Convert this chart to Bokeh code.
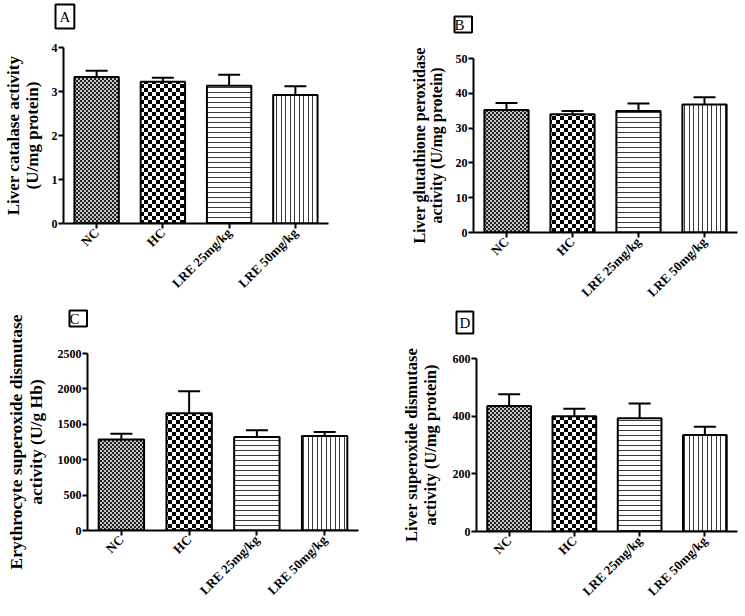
from math import pi
from bokeh.plotting import figure
from bokeh.models import (ColumnDataSource, Whisker, TeeHead, FixedTicker,
                          Range1d, FactorRange, CanvasTexture, Title,
                          CDSView, IndexFilter)
from bokeh.layouts import column, row
from bokeh.embed import file_html
from bokeh.resources import INLINE

# ---------------- data ----------------
groups = ["NC", "HC", "LRE 25mg/kg", "LRE 50mg/kg"]

catalase_mean = [3.33, 3.22, 3.13, 2.92]
catalase_sem = [0.14, 0.09, 0.25, 0.20]

gpx_mean = [35.2, 34.0, 34.9, 36.8]
gpx_sem = [2.0, 0.9, 2.2, 2.1]

ery_sod_mean = [1285, 1656, 1321, 1335]
ery_sod_sem = [83, 311, 94, 57]

liver_sod_mean = [435, 400, 393, 335]
liver_sod_sem = [41, 26, 51, 28]

ticks_a = [0, 1, 2, 3, 4]
ticks_b = [0, 10, 20, 30, 40, 50]
ticks_c = [0, 500, 1000, 1500, 2000, 2500]
ticks_d = [0, 200, 400, 600]

# ---------------- styles ----------------
FONT = "Liberation Serif"
PATTERNS = ["fine", "coarse", "hlines", "vlines"]
SCALES = [4, 8, 5, 9]

HATCH = {
    "fine": CanvasTexture(code="""
const g = arguments[0];
g.canvas.width = 4; g.canvas.height = 4;
g.fillStyle = "#c4c4c4"; g.fillRect(0, 0, 4, 4);
g.fillStyle = "#222222";
g.fillRect(0, 0, 2, 2); g.fillRect(2, 2, 2, 2);
"""),
    "coarse": CanvasTexture(code="""
const g = arguments[0];
g.canvas.width = 8; g.canvas.height = 8;
g.fillStyle = "#ffffff"; g.fillRect(0, 0, 8, 8);
g.fillStyle = "#000000";
g.fillRect(0, 0, 4, 4); g.fillRect(4, 4, 4, 4);
"""),
    "hlines": CanvasTexture(code="""
const g = arguments[0];
g.canvas.width = 5; g.canvas.height = 5;
g.fillStyle = "#ffffff"; g.fillRect(0, 0, 5, 5);
g.fillStyle = "#3a3a3a";
g.fillRect(0, 2, 5, 1);
"""),
    "vlines": CanvasTexture(code="""
const g = arguments[0];
g.canvas.width = 9; g.canvas.height = 9;
g.fillStyle = "#ffffff"; g.fillRect(0, 0, 9, 9);
g.fillStyle = "#3a3a3a";
g.fillRect(2, 0, 1, 9); g.fillRect(6, 0, 1, 9);
"""),
}


def panel(means, sems, ymax, ticks, width, height, bl, br, bt, bb,
          ylabel, fs, lstand, letter, offset, spacer, pad):
    src = ColumnDataSource(dict(
        g=groups, m=means, u=[m + s for m, s in zip(means, sems)],
        pat=PATTERNS, sc=SCALES))
    p = figure(x_range=FactorRange(factors=groups, range_padding=0),
               y_range=Range1d(0, ymax), width=width, height=height,
               output_backend="svg", toolbar_location=None,
               min_border_left=bl, min_border_right=br,
               min_border_top=bt, min_border_bottom=bb)
    try:
        p.frame_align = False
    except Exception:
        pass
    for i in range(len(groups)):
        p.vbar(x="g", top="m", width=0.67, source=src,
               view=CDSView(filter=IndexFilter([i])),
               fill_color="white", line_color="black", line_width=2,
               hatch_pattern="pat", hatch_scale="sc", hatch_color="black",
               hatch_extra=HATCH)
    p.add_layout(Whisker(source=src, base="g", lower="m", upper="u",
                         dimension="height", line_width=2, line_color="black",
                         upper_head=TeeHead(size=22, line_width=2, line_color="black"),
                         lower_head=None))
    p.outline_line_color = None
    p.grid.grid_line_color = None
    p.yaxis.ticker = FixedTicker(ticks=ticks)
    for ax in (p.xaxis, p.yaxis):
        ax.axis_line_width = 2
        ax.axis_line_color = "black"
        ax.major_tick_line_width = 2
        ax.major_tick_line_color = "black"
        ax.major_tick_out = 5
        ax.major_tick_in = 0
        ax.minor_tick_line_color = None
        ax.major_label_text_font = FONT
        ax.major_label_text_font_style = "bold"
        ax.major_label_text_color = "black"
    p.yaxis.major_label_text_font_size = "12px"
    p.xaxis.major_label_text_font_size = "13px"
    p.xaxis.major_label_orientation = pi / 4
    p.xaxis.major_label_standoff = 2
    p.yaxis.major_label_standoff = 1

    p.yaxis.axis_label = ylabel
    p.yaxis.axis_label_text_font = FONT
    p.yaxis.axis_label_text_font_style = "bold"
    p.yaxis.axis_label_text_font_size = fs
    p.yaxis.axis_label_text_color = "black"
    p.yaxis.axis_label_text_align = "center"
    p.yaxis.axis_label_text_line_height = 1.0
    p.yaxis.axis_label_standoff = lstand

    # invisible spacer between the frame and the panel letter box
    p.add_layout(Title(text=" ", text_font_size="1px", text_color="white",
                       standoff=max(spacer - 3, 0)), "above")
    t = Title(text=letter, align="left", offset=offset, standoff=0,
              text_font=FONT, text_font_size="15px", text_font_style="normal",
              text_color="black", border_line_color="black",
              border_line_width=2, background_fill_color="white")
    if pad:
        try:
            t.padding = pad
        except Exception:
            pass
    p.add_layout(t, "above")
    return p


pa = panel(catalase_mean, catalase_sem, 4, ticks_a, 372, 308, 62, 44, 47, 85,
           "Liver catalase activity\n(U/mg protein)", "17px", 7,
           "A", -8, 19, 4)
pb = panel(gpx_mean, gpx_sem, 50, ticks_b, 373, 308, 101, 8, 58, 75,
           "Liver glutathione peroxidase\nactivity (U/mg protein)", "16px", 8,
           " B ", -19, 26, 0)
pc = panel(ery_sod_mean, ery_sod_sem, 2500, ticks_c, 372, 300, 87, 14, 45, 78,
           "Erythrocyte superoxide dismutase\nactivity (U/g Hb)", "17.5px", 9,
           " C ", -18, 27, 0)
pd = panel(liver_sod_mean, liver_sod_sem, 600, ticks_d, 373, 300, 104, 8, 50, 77,
           "Liver superoxide dismutase\nactivity (U/mg protein)", "16.5px", 10,
           "D", -20, 25, 3)

layout = column(row(pa, pb), row(pc, pd))
open("out.html", "w").write(file_html(layout, INLINE))
